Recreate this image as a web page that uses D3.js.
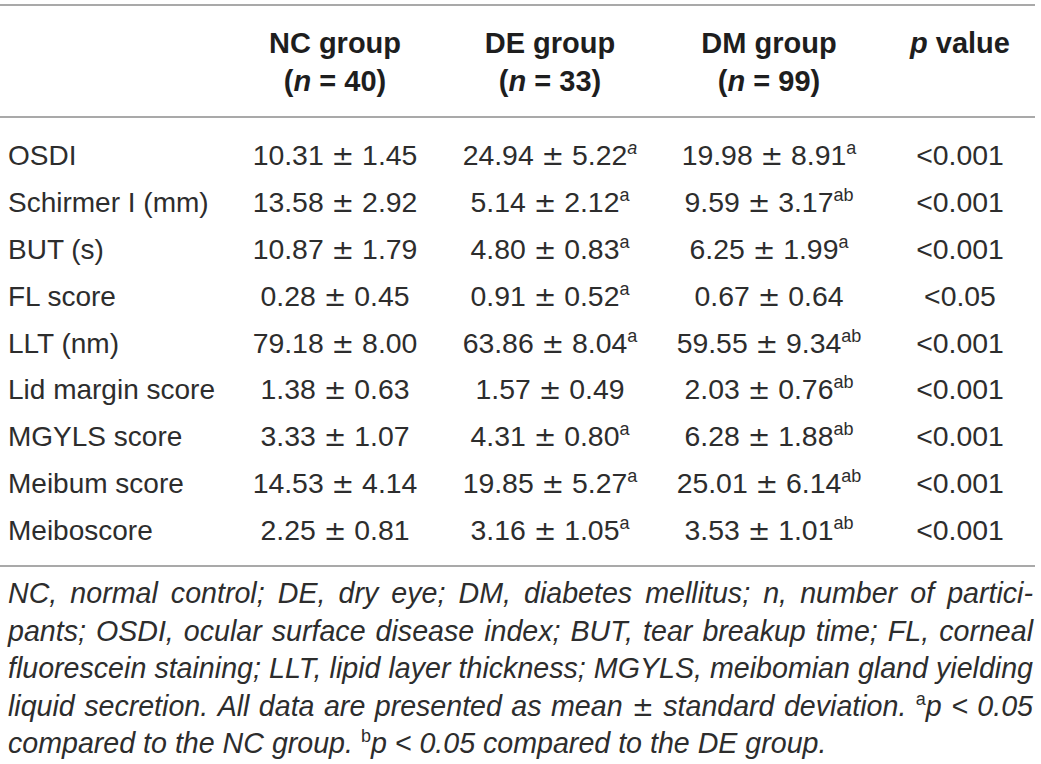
<!DOCTYPE html>
<html>
<head>
<meta charset="utf-8">
<script src="https://cdn.jsdelivr.net/npm/d3@7/dist/d3.min.js"></script>
<style>
  html, body { margin: 0; padding: 0; background: #fff; }
  svg { display: block; }
</style>
</head>
<body>
<svg id="chart" width="1041" height="764"></svg>
<script>
// ---------- data ----------
const rowLabels = ["OSDI", "Schirmer I (mm)", "BUT (s)", "FL score", "LLT (nm)",
  "Lid margin score", "MGYLS score", "Meibum score", "Meiboscore"];
const groupNames = ["NC group", "DE group", "DM group"];
const groupCounts = [40, 33, 99];

const ncMean = [10.31, 13.58, 10.87, 0.28, 79.18, 1.38, 3.33, 14.53, 2.25];
const ncSD   = [1.45, 2.92, 1.79, 0.45, 8.00, 0.63, 1.07, 4.14, 0.81];
const ncSup  = ["", "", "", "", "", "", "", "", ""];

const deMean = [24.94, 5.14, 4.80, 0.91, 63.86, 1.57, 4.31, 19.85, 3.16];
const deSD   = [5.22, 2.12, 0.83, 0.52, 8.04, 0.49, 0.80, 5.27, 1.05];
const deSup  = ["a", "a", "a", "a", "a", "", "a", "a", "a"];

const dmMean = [19.98, 9.59, 6.25, 0.67, 59.55, 2.03, 6.28, 25.01, 3.53];
const dmSD   = [8.91, 3.17, 1.99, 0.64, 9.34, 0.76, 1.88, 6.14, 1.01];
const dmSup  = ["a", "ab", "a", "", "ab", "ab", "ab", "ab", "ab"];

const pValues = ["<0.001", "<0.001", "<0.001", "<0.05", "<0.001", "<0.001", "<0.001", "<0.001", "<0.001"];

const footnoteLines = [
  "NC, normal control; DE, dry eye; DM, diabetes mellitus; n, number of partici-",
  "pants; OSDI, ocular surface disease index; BUT, tear breakup time; FL, corneal",
  "fluorescein staining; LLT, lipid layer thickness; MGYLS, meibomian gland yielding",
  "liquid secretion. All data are presented as mean \u00b1 standard deviation. ^ap < 0.05",
  "compared to the NC group. ^bp < 0.05 compared to the DE group."
];

// ---------- layout ----------
const svg = d3.select("#chart");
const FONT = "'Liberation Sans', Arial, Helvetica, sans-serif";
const PMFONT = "'DejaVu Sans', 'Liberation Sans', sans-serif";
const FS = 28.4;
const HFS = 29;
const TXT = "#2d2d2d";
const LINE = "#8c8c8c";

const cols = ["label", "NC", "DE", "DM", "p"];
const x = d3.scaleOrdinal().domain(cols).range([8, 335, 550, 769, 960]);
const y = d3.scalePoint().domain(rowLabels).range([165, 540]);

// rules
const rules = [5, 117, 566];
svg.selectAll("line.rule").data(rules).join("line")
  .attr("class", "rule")
  .attr("x1", 0).attr("x2", 1035)
  .attr("y1", d => d).attr("y2", d => d)
  .attr("stroke", LINE).attr("stroke-width", 1.4);

// header
const headerCols = ["NC", "DE", "DM"];
headerCols.forEach((c, i) => {
  svg.append("text")
    .attr("x", x(c)).attr("y", 53)
    .attr("text-anchor", "middle")
    .attr("font-family", FONT).attr("font-size", HFS).attr("font-weight", "bold")
    .attr("fill", "#1e1e1e")
    .text(groupNames[i]);
  const t = svg.append("text")
    .attr("x", x(c)).attr("y", 91)
    .attr("text-anchor", "middle")
    .attr("font-family", FONT).attr("font-size", HFS).attr("font-weight", "bold")
    .attr("fill", "#1e1e1e");
  t.append("tspan").text("(");
  t.append("tspan").attr("font-style", "italic").text("n");
  t.append("tspan").text(" = " + groupCounts[i] + ")");
});
{
  const t = svg.append("text")
    .attr("x", x("p")).attr("y", 53)
    .attr("text-anchor", "middle")
    .attr("font-family", FONT).attr("font-size", HFS).attr("font-weight", "bold")
    .attr("fill", "#1e1e1e");
  t.append("tspan").attr("font-style", "italic").text("p");
  t.append("tspan").text(" value");
}

// row labels
svg.selectAll("text.rowlabel").data(rowLabels).join("text")
  .attr("class", "rowlabel")
  .attr("x", x("label")).attr("y", d => y(d))
  .attr("font-family", FONT).attr("font-size", 28)
  .attr("fill", TXT)
  .text(d => d);

// value cells
const fmt = d3.format(".2f");
function cellGroup(col, means, sds, sups) {
  rowLabels.forEach((r, i) => {
    const t = svg.append("text")
      .attr("x", x(col)).attr("y", y(r))
      .attr("text-anchor", "middle")
      .attr("font-family", FONT).attr("font-size", FS)
      .attr("fill", TXT);
    t.append("tspan").text(fmt(means[i]) + " ");
    t.append("tspan").attr("font-family", PMFONT).attr("font-size", 27).text("\u00b1");
    t.append("tspan").text(" " + fmt(sds[i]));
    if (sups[i]) {
      t.append("tspan")
        .attr("font-size", 18)
        .attr("dy", -11)
        .attr("font-style", (col === "DE" && i === 0) ? "italic" : "normal")
        .text(sups[i]);
    }
  });
}
cellGroup("NC", ncMean, ncSD, ncSup);
cellGroup("DE", deMean, deSD, deSup);
cellGroup("DM", dmMean, dmSD, dmSup);

svg.selectAll("text.pval").data(pValues).join("text")
  .attr("class", "pval")
  .attr("x", x("p")).attr("y", (d, i) => y(rowLabels[i]))
  .attr("text-anchor", "middle")
  .attr("font-family", FONT).attr("font-size", FS)
  .attr("fill", TXT)
  .text(d => d);

// footnote (justified)
const FN_FS = 28.6;
const fnLeft = 8, fnRight = 1033;
const fnY = d3.scalePoint().domain(d3.range(footnoteLines.length)).range([603, 753]);

function buildWord(parent, word) {
  const t = parent.append("text")
    .attr("font-family", FONT).attr("font-size", FN_FS)
    .attr("font-style", "italic").attr("fill", TXT);
  if (word.startsWith("^")) {
    t.append("tspan").attr("font-style", "normal").attr("font-size", 18)
      .attr("dy", -11).text(word[1]);
    t.append("tspan").attr("dy", 11).text(word.slice(2));
  } else if (word === "\u00b1") {
    t.append("tspan").attr("font-family", PMFONT).attr("font-style", "normal")
      .attr("font-size", 26).text(word);
  } else {
    t.text(word);
  }
  return t;
}

footnoteLines.forEach((line, li) => {
  const words = line.split(" ");
  const g = svg.append("g");
  const nodes = words.map(w => buildWord(g, w));
  const widths = nodes.map(n => n.node().getComputedTextLength());
  const total = d3.sum(widths);
  const last = li === footnoteLines.length - 1;
  const gap = last ? FN_FS * 0.278 : (fnRight - fnLeft - total) / (words.length - 1);
  let cx = fnLeft;
  nodes.forEach((n, k) => {
    n.attr("x", cx).attr("y", fnY(li));
    cx += widths[k] + gap;
  });
});
</script>
</body>
</html>
